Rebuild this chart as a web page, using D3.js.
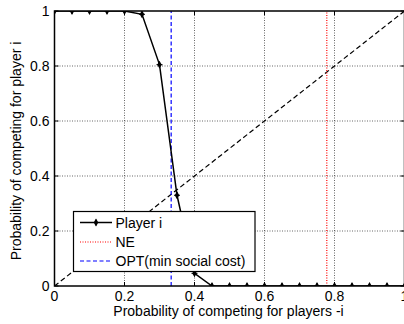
<!DOCTYPE html>
<html><head><meta charset="utf-8">
<script src="https://cdn.jsdelivr.net/npm/d3@7"></script>
<style>body{margin:0;background:#fff}text{font-family:Arial,"Liberation Sans",sans-serif}</style>
</head><body><svg id="c" width="404" height="324"></svg>
<script>
const playerX = [0,0.05,0.1,0.15,0.2,0.25,0.3,0.35,0.4,0.45,0.5,0.55,0.6,0.65,0.7,0.75,0.8,0.85,0.9,0.95,1.0];
const playerY = [1,1,1,1,1,0.988,0.805,0.33,0.046,0,0,0,0,0,0,0,0,0,0,0,0];
const neX = 0.778;
const optX = 1/3;
const diagonal = [[0,0],[1,1]];
const xTicks = [0,0.2,0.4,0.6,0.8,1];
const yTicks = [0,0.2,0.4,0.6,0.8,1];
const legendLabels = ["Player i","NE","OPT(min social cost)"];

const svg = d3.select("#c");
const x = d3.scaleLinear().domain([0,1]).range([54.5,404.5]);
const y = d3.scaleLinear().domain([0,1]).range([286,11]);
const fs = 14;

const plot = svg.append("g");
plot.append("defs").append("clipPath").attr("id","cp").append("rect")
  .attr("x",x(0)).attr("y",y(1)).attr("width",x(1)-x(0)).attr("height",y(0)-y(1));

// grid
const grid = plot.append("g").attr("stroke","#000").attr("stroke-width",0.6).attr("stroke-dasharray","1,1.5");
xTicks.slice(1,-1).forEach(t=>grid.append("line").attr("x1",x(t)).attr("x2",x(t)).attr("y1",y(0)).attr("y2",y(1)));
yTicks.slice(1,-1).forEach(t=>grid.append("line").attr("x1",x(0)).attr("x2",x(1)).attr("y1",y(t)).attr("y2",y(t)));

const g = plot.append("g").attr("clip-path","url(#cp)");
// diagonal
g.append("path").attr("d",d3.line().x(d=>x(d[0])).y(d=>y(d[1]))(diagonal))
  .attr("stroke","#000").attr("stroke-width",1.2).attr("stroke-dasharray","5,3").attr("fill","none");
// NE
g.append("line").attr("x1",x(neX)).attr("x2",x(neX)).attr("y1",y(0)).attr("y2",y(1))
  .attr("stroke","#ff0000").attr("stroke-width",1.2).attr("stroke-dasharray","1,1.5");
// OPT
g.append("line").attr("x1",x(optX)).attr("x2",x(optX)).attr("y1",y(0)).attr("y2",y(1))
  .attr("stroke","#0000ff").attr("stroke-width",1.2).attr("stroke-dasharray","4,2.5");
// player line
const pts = playerX.map((v,i)=>[v,playerY[i]]);
g.append("path").attr("d",d3.line().x(d=>x(d[0])).y(d=>y(d[1]))(pts))
  .attr("stroke","#000").attr("stroke-width",1.5).attr("fill","none");
const marker = d3.symbol().type(d3.symbolDiamond).size(18);
g.selectAll(".m").data(pts).join("path").attr("class","m")
  .attr("transform",d=>`translate(${x(d[0])},${y(d[1])})`).attr("d",marker()).attr("fill","#000");
g.selectAll(".mc").data(pts).join("path").attr("class","mc")
  .attr("d",d=>`M${x(d[0])-3},${y(d[1])}h6M${x(d[0])},${y(d[1])-3}v6`).attr("stroke","#000").attr("stroke-width",1);

// frame
plot.append("rect").attr("x",x(0)).attr("y",y(1)).attr("width",x(1)-x(0)).attr("height",y(0)-y(1))
  .attr("fill","none").attr("stroke","#000").attr("stroke-width",1.5);
// ticks inside
const tk = plot.append("g").attr("stroke","#000").attr("stroke-width",1);
xTicks.forEach(t=>{tk.append("line").attr("x1",x(t)).attr("x2",x(t)).attr("y1",y(0)).attr("y2",y(0)-4);
  tk.append("line").attr("x1",x(t)).attr("x2",x(t)).attr("y1",y(1)).attr("y2",y(1)+4);});
yTicks.forEach(t=>{tk.append("line").attr("x1",x(0)).attr("x2",x(0)+4).attr("y1",y(t)).attr("y2",y(t));
  tk.append("line").attr("x1",x(1)).attr("x2",x(1)-4).attr("y1",y(t)).attr("y2",y(t));});

// tick labels
svg.selectAll(".xl").data(xTicks).join("text").attr("class","xl")
  .attr("x",d=>x(d)).attr("y",y(0)+14.5).attr("text-anchor","middle").attr("font-size",fs)
  .text(d=>d3.format("~g")(d));
svg.selectAll(".yl").data(yTicks).join("text").attr("class","yl")
  .attr("x",x(0)-5).attr("y",d=>y(d)+5).attr("text-anchor","end").attr("font-size",fs)
  .text(d=>d3.format("~g")(d));
// axis titles
svg.append("text").attr("x",228.5).attr("y",316).attr("text-anchor","middle").attr("font-size",fs)
  .text("Probability of competing for players -i");
svg.append("text").attr("transform","translate(21,151) rotate(-90)").attr("text-anchor","middle").attr("font-size",fs)
  .text("Probability of competing for player i");

// legend
const lg = svg.append("g");
lg.append("rect").attr("x",73.5).attr("y",211.5).attr("width",181.5).attr("height",60)
  .attr("fill","#fff").attr("stroke","#000").attr("stroke-width",1.2);
const rowY = [222.5,242,261];
const styles = [{c:"#000",d:null,w:1.5},{c:"#ff0000",d:"1,1.5",w:1.2},{c:"#0000ff",d:"4,2.5",w:1.2}];
legendLabels.forEach((l,i)=>{
  lg.append("line").attr("x1",80).attr("x2",112).attr("y1",rowY[i]).attr("y2",rowY[i])
    .attr("stroke",styles[i].c).attr("stroke-width",styles[i].w).attr("stroke-dasharray",styles[i].d);
  lg.append("text").attr("x",115.5).attr("y",rowY[i]+5).attr("font-size",fs).text(l);
});
lg.append("path").attr("transform",`translate(96,${rowY[0]})`).attr("d",marker()).attr("fill","#000");
lg.append("path").attr("d",`M93,${rowY[0]}h6M96,${rowY[0]-3}v6`).attr("stroke","#000");
</script></body></html>
